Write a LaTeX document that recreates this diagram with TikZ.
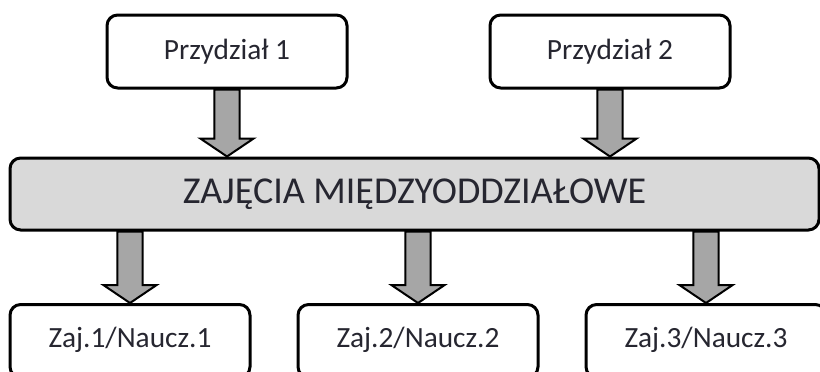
\documentclass[tikz,border=0pt]{standalone}
\usepackage{fontspec}
\setmainfont{Carlito}
\usetikzlibrary{calc,backgrounds}
\definecolor{txt}{HTML}{262630}
\definecolor{mainfill}{HTML}{D9D9D9}
\definecolor{arrfill}{HTML}{A6A6A6}
\tikzset{
  box/.style={draw=black, line width=2.25pt, rounded corners=8pt, fill=white,
    minimum width=180pt, minimum height=54.75pt, inner sep=0pt, text=txt,
    font=\fontsize{22}{26}\selectfont},
  mainbox/.style={box, fill=mainfill, minimum width=606.75pt, minimum height=54pt,
    font=\fontsize{28.5}{34}\selectfont},
  lbl/.style={text=txt, font=\fontsize{22}{26}\selectfont},
  fatarr/.style={draw=black, line width=1.5pt, fill=arrfill, line join=miter}
}
\newcommand\fatarrow[3]{%
  \draw[fatarr] let \p0=(#1.center), \p1=(#2.south), \p2=(#3.north) in
    (\x0-9.5pt,\y1) -- (\x0-9.5pt,\y2+13.5pt) -- (\x0-20pt,\y2+13.5pt) -- (\x0,\y2)
    -- (\x0+20pt,\y2+13.5pt) -- (\x0+9.5pt,\y2+13.5pt) -- (\x0+9.5pt,\y1) -- cycle;}
\begin{document}
\begin{tikzpicture}[x=0.75pt,y=-0.75pt]
\useasboundingbox (0,0) rectangle (820,371);
\clip (0,0) rectangle (820,371);
\node[box] (p1) at (227,51.5) {Przydział 1};
\node[box] (p2) at (610,51.5) {Przydział 2};
\node[mainbox] (main) at (414.5,194) {ZAJĘCIA MIĘDZYODDZIAŁOWE};
\node[box, anchor=north] (z1) at (130,303) {};
\node[box, anchor=north] (z2) at (418,303) {};
\node[box, anchor=north] (z3) at (706,303) {};
\node[lbl] (t1) at (130,340) {Zaj.1/Naucz.1};
\node[lbl] (t2) at (418,340) {Zaj.2/Naucz.2};
\node[lbl] (t3) at (706,340) {Zaj.3/Naucz.3};
\begin{scope}[on background layer]
\fatarrow{p1}{p1}{main}
\fatarrow{p2}{p2}{main}
\fatarrow{z1}{main}{z1}
\fatarrow{z2}{main}{z2}
\fatarrow{z3}{main}{z3}
\end{scope}
\end{tikzpicture}
\end{document}
